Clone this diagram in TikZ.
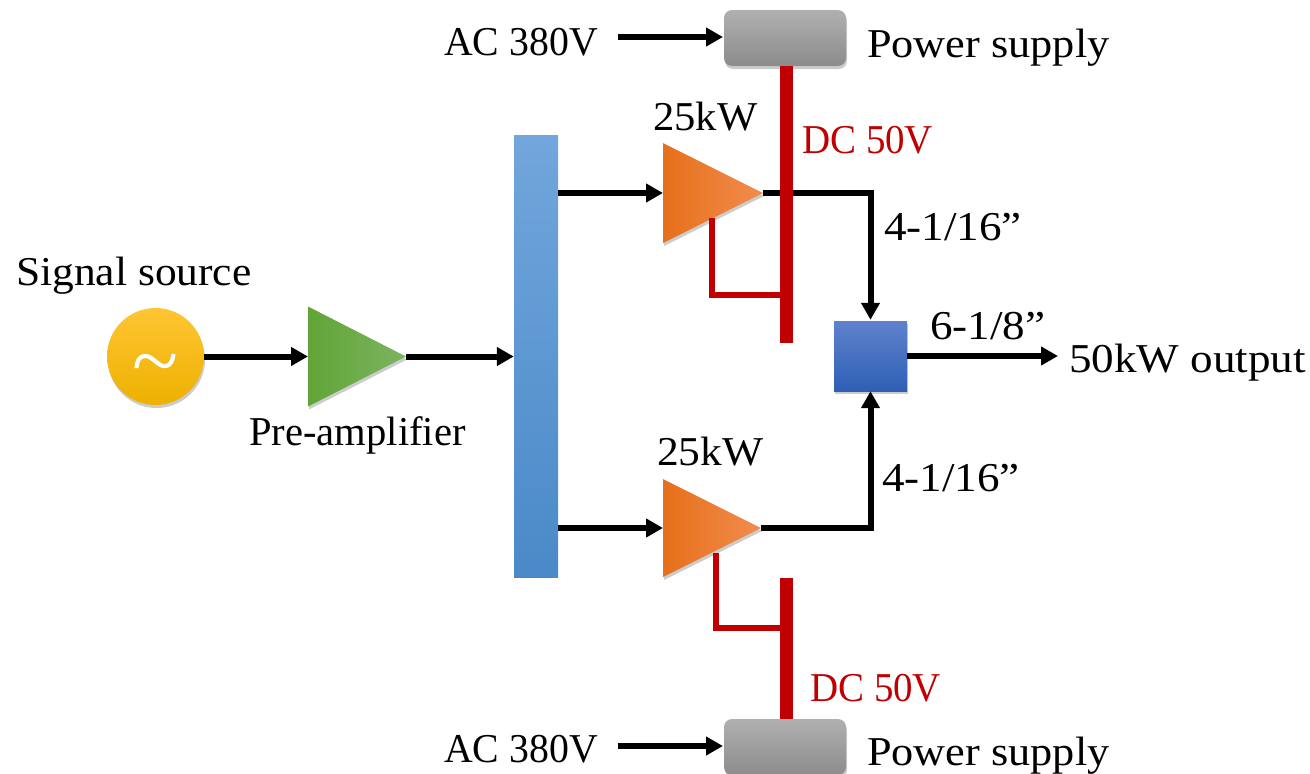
\documentclass[tikz,border=0pt]{standalone}
\usepackage{fontspec}
\setmainfont{Liberation Serif}
\usetikzlibrary{arrows.meta,shapes.geometric,shadows}
\definecolor{busred}{HTML}{C00000}
\definecolor{orangeA}{HTML}{E6701A}
\definecolor{orangeB}{HTML}{F8802B}
\definecolor{orangeC}{HTML}{F28C4E}
\definecolor{greenA}{HTML}{62A437}
\definecolor{greenB}{HTML}{70AD47}
\definecolor{greenC}{HTML}{7CB461}
\definecolor{sunA}{HTML}{FFC533}
\definecolor{sunB}{HTML}{FFC600}
\definecolor{sunC}{HTML}{EDB100}
\definecolor{skyA}{HTML}{72A6DC}
\definecolor{skyB}{HTML}{5B9BD5}
\definecolor{skyC}{HTML}{4A89C8}
\definecolor{blueA}{HTML}{5F82CC}
\definecolor{blueB}{HTML}{4472C4}
\definecolor{blueC}{HTML}{2E5FB5}
\definecolor{greyA}{HTML}{B0B0B0}
\definecolor{greyC}{HTML}{8C8C8C}
\tikzset{
	softshadow/.style={drop shadow={shadow xshift=1pt,shadow yshift=-3pt,opacity=.2,fill=black}},
	amp/.style={isosceles triangle,isosceles triangle stretches,shape border rotate=0,inner sep=0pt,outer sep=0pt,anchor=apex,softshadow},
	poweramp/.style={amp,left color=orangeA,middle color=orangeB,right color=orangeC},
	preamp/.style={amp,left color=greenA,middle color=greenB,right color=greenC},
	supply/.style={rounded corners=8pt,minimum width=122pt,minimum height=56pt,inner sep=0pt,top color=greyA,bottom color=greyC,softshadow},
	busbar/.style={fill=busred,minimum width=13pt,inner sep=0pt},
	signal/.style={line width=6pt,-{Triangle[length=17pt,width=18pt]}},
	feed/.style={line width=5.5pt,busred},
	lbl/.style={anchor=base west,inner sep=0pt,transform shape,font=\fontsize{41}{44}\selectfont},
	redlbl/.style={lbl,text=busred}
}
\begin{document}
\begin{tikzpicture}[x=1pt,y=-1pt]
	\useasboundingbox (0,0) rectangle (1310,774);
	% source, driver and splitter
	\node[circle,minimum size=97pt,inner sep=0pt,top color=sunA,middle color=sunB,bottom color=sunC,text=white,font=\fontsize{85}{85}\selectfont,softshadow] (source) at (155.5,356.5) {\smash{\raisebox{-33pt}{\symbol{126}}}};
	\node[preamp,minimum width=100pt,minimum height=98pt] (preamp) at (406,356.5) {};
	\node[minimum width=44pt,minimum height=442pt,inner sep=0pt,top color=skyA,middle color=skyB,bottom color=skyC] (splitter) at (536,356.5) {};
	\node[minimum width=73pt,minimum height=70pt,inner sep=0pt,top color=blueA,middle color=blueB,bottom color=blueC,softshadow] (combiner) at (870.5,356) {};
	% power amplifiers and supplies
	\node[poweramp,minimum width=100pt,minimum height=100pt] (pa_1) at (763,193) {};
	\node[poweramp,minimum width=98pt,minimum height=98pt] (pa_2) at (761,528) {};
	\node[supply] (psu_1) at (785,38) {};
	\node[supply] (psu_2) at (785,747) {};
	% free ends
	\coordinate (ac_1) at (618,37);
	\coordinate (ac_2) at (618,746);
	\coordinate (out) at (1058,356);
	\coordinate (psu_in_1) at (723,37);
	\coordinate (psu_in_2) at (723,746);
	\coordinate (split_out_1) at (558,193);
	\coordinate (split_out_2) at (558,528);
	\coordinate (feed_1) at (712,218);
	\coordinate (feed_2) at (716,553);
	\coordinate (tap_1) at (780,295);
	\coordinate (tap_2) at (780,628);
	% edges
	\draw[signal] (source.east) -- (preamp.lower side);
	\draw[signal] (preamp.apex) -- (splitter.west);
	\draw[signal] (split_out_1) -- (pa_1.lower side);
	\draw[signal] (split_out_2) -- (pa_2.lower side);
	\draw[signal] (ac_1) -- (psu_in_1);
	\draw[signal] (ac_2) -- (psu_in_2);
	\draw[signal] (combiner.east) -- (out);
	\draw[signal,shorten >=1pt] (pa_1.apex) -| (combiner.north);
	\draw[signal] (pa_2.apex) -| (combiner.south);
	\draw[feed] (feed_1) |- (tap_1);
	\draw[feed] (feed_2) |- (tap_2);
	% bus bars
	\node[busbar,minimum height=277pt] (bus_1) at (786,204.5) {};
	\node[busbar,minimum height=141pt] (bus_2) at (786,648.5) {};
	% text labels
	\foreach \xpos/\ypos/\stretch/\txt [count=\index] in {
		444/55/0.97/AC 380V,
		444/762/0.97/AC 380V,
		867/57/1.08/Power supply,
		867/765/1.08/Power supply,
		16/285/1.06/Signal source,
		249/445/0.99/Pre-amplifier,
		653/130/1.04/25kW,
		657/465/1.06/25kW,
		884/240/1.1/{4-1/16”},
		882/491/1.1/{4-1/16”},
		930/339/1.1/{6-1/8”},
		1069/372/1.10/50kW output}
	{
		\node[lbl,xscale=\stretch] (txt_\index) at (\xpos,\ypos) {\txt};
	}
	\node[redlbl,xscale=0.95] (dc_1) at (802,153) {DC 50V};
	\node[redlbl,xscale=0.95] (dc_2) at (810,701) {DC 50V};
\end{tikzpicture}
\end{document}
